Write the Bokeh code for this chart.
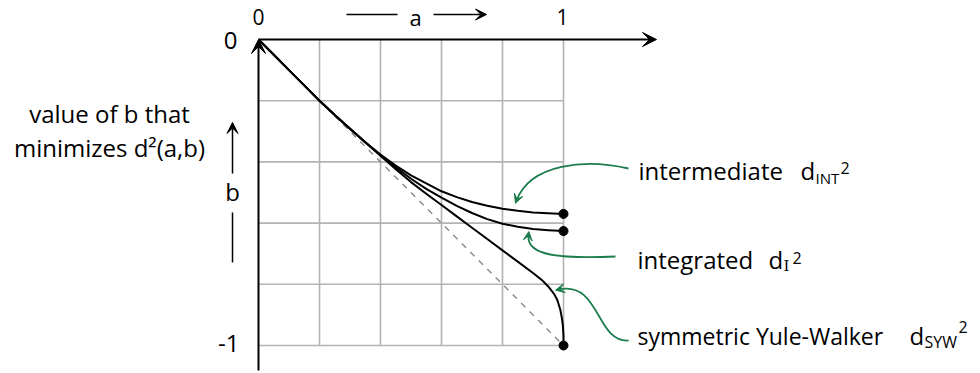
from bokeh.plotting import figure
from bokeh.models import Range1d, Arrow, VeeHead, Label
from bokeh.embed import file_html
from bokeh.resources import INLINE

W, H = 980, 373

# Placement of the unit square on the canvas (pixels):
# a = 0 -> x 258, a = 1 -> x 563 ; b = 0 -> y 39, b = -1 -> y 345
X0, XS = 258, 305
Y0, YS = 39, 306


def fx(px):
    return (px - X0) / XS


def fy(py):
    return -(py - Y0) / YS


# ---- data: value of b minimising each distance, as a function of a ----
a_vals = [0.0, 0.05, 0.10, 0.15, 0.20, 0.25, 0.30, 0.35, 0.40, 0.45,
          0.50, 0.55, 0.60, 0.65, 0.70, 0.75, 0.80, 0.85, 0.90, 0.95, 1.0]
b_intermediate = [0.0, -0.05, -0.10, -0.15, -0.20, -0.247, -0.292, -0.336, -0.376, -0.412,
                  -0.444, -0.470, -0.496, -0.515, -0.531, -0.543, -0.553, -0.560, -0.565, -0.568, -0.570]
b_integrated = [0.0, -0.05, -0.10, -0.15, -0.20, -0.247, -0.292, -0.336, -0.378, -0.418,
                -0.455, -0.488, -0.517, -0.544, -0.567, -0.587, -0.602, -0.612, -0.619, -0.623, -0.626]
a_syw = [0.0, 0.05, 0.10, 0.15, 0.20, 0.25, 0.30, 0.35, 0.40, 0.45,
         0.50, 0.55, 0.60, 0.65, 0.70, 0.75, 0.80, 0.85, 0.90, 0.93, 0.95,
         0.97, 0.98, 0.99, 0.995, 0.998, 1.0, 1.0]
b_syw = [0.0, -0.05, -0.10, -0.15, -0.20, -0.247, -0.292, -0.336, -0.380, -0.424,
         -0.466, -0.504, -0.541, -0.578, -0.615, -0.652, -0.689, -0.726, -0.763, -0.787, -0.807,
         -0.833, -0.852, -0.885, -0.912, -0.935, -0.970, -1.0]
diag_a = [0.0, 1.0]
diag_b = [0.0, -1.0]
grid_ticks = [0.2, 0.4, 0.6, 0.8, 1.0]
end_a = [a_vals[-1], a_vals[-1], a_syw[-1]]
end_b = [b_intermediate[-1], b_integrated[-1], b_syw[-1]]

FONT = "Open Sans"
GREEN = "#1d7d4c"
GRID = "#b3b3b3"

p = figure(width=W, height=H,
           x_range=Range1d(fx(0), fx(W)), y_range=Range1d(fy(H), fy(0)),
           output_backend="svg", toolbar_location=None,
           x_axis_location=None, y_axis_location=None,
           min_border=0, outline_line_color=None)
p.background_fill_color = "white"
p.border_fill_color = "white"
p.xgrid.visible = False
p.ygrid.visible = False
for r in p.renderers + p.center:
    if r.__class__.__name__ == "Grid":
        r.visible = False

# grid of the unit square
p.segment(x0=grid_ticks, y0=[0] * 5, x1=grid_ticks, y1=[-1] * 5,
          line_color=GRID, line_width=1.6)
p.segment(x0=[0] * 5, y0=[-t for t in grid_ticks], x1=[1] * 5, y1=[-t for t in grid_ticks],
          line_color=GRID, line_width=1.6)

# axes with arrowheads
p.add_layout(Arrow(x_start=0, y_start=0, x_end=fx(656), y_end=0, line_width=2,
                   end=VeeHead(size=14, fill_color="black", line_color="black")))
p.add_layout(Arrow(x_start=0, y_start=fy(370), x_end=0, y_end=0, line_width=2,
                   end=VeeHead(size=14, fill_color="black", line_color="black")))

# reference diagonal b = -a
p.line(diag_a, diag_b, line_color="#8c8c8c", line_width=1.5, line_dash="6 6")

# the three minimiser curves
for xs, ys in ((a_vals, b_intermediate), (a_vals, b_integrated), (a_syw, b_syw)):
    p.line(xs, ys, line_color="black", line_width=2, line_join="round")
p.scatter(end_a, end_b, size=9, color="black")

# green pointers from the labels to the curves
pointers = [
    # (start, ctrl1, ctrl2, end) in pixels
    ((628, 168), (585, 158), (530, 163), (516, 200)),
    ((615, 256), (560, 258), (525, 256), (528, 234)),
    ((628, 340), (595, 342), (600, 280), (558, 289)),
]
for (s, c1, c2, e) in pointers:
    p.bezier(x0=fx(s[0]), y0=fy(s[1]), x1=fx(e[0]), y1=fy(e[1]),
             cx0=fx(c1[0]), cy0=fy(c1[1]), cx1=fx(c2[0]), cy1=fy(c2[1]),
             line_color=GREEN, line_width=1.8)
    dx, dy = e[0] - c2[0], e[1] - c2[1]
    n = (dx * dx + dy * dy) ** 0.5
    ux, uy = dx / n, dy / n
    p.add_layout(Arrow(x_start=fx(e[0] - 2 * ux), y_start=fy(e[1] - 2 * uy),
                       x_end=fx(e[0] + 3 * ux), y_end=fy(e[1] + 3 * uy),
                       line_color=GREEN, line_width=1.5,
                       end=VeeHead(size=9, fill_color=GREEN, line_color=GREEN)))


def label(px, py, text, size=24, align="left", font=FONT):
    # py is the text baseline; raise by the font's descent so the glyphs sit on it
    p.add_layout(Label(x=fx(px), y=fy(py - 0.3 * size), text=text, text_font=font,
                       text_font_size=f"{size}px", text_align=align,
                       text_baseline="alphabetic", text_color="black"))


# tick labels
label(258, 23, "0", size=21, align="center")
label(562, 23, "1", size=21, align="center")
label(237, 47, "0", align="right")
label(239, 350, "-1", align="right")

# a-axis title with arrows
label(415, 23, "a", size=22, align="center")
p.segment(x0=[fx(346)], y0=[fy(14)], x1=[fx(397)], y1=[fy(14)], line_color="black", line_width=1.5)
p.add_layout(Arrow(x_start=fx(433), y_start=fy(14), x_end=fx(486), y_end=fy(14), line_width=1.5,
                   end=VeeHead(size=11, fill_color="black", line_color="black")))

# b-axis title with arrows
label(109, 120, "value of b that", align="center")
label(109, 154, "minimizes d²(a,b)", align="center")
label(232, 198, "b", align="center")
p.add_layout(Arrow(x_start=fx(232), y_start=fy(173), x_end=fx(232), y_end=fy(122), line_width=1.5,
                   end=VeeHead(size=11, fill_color="black", line_color="black")))
p.segment(x0=[fx(232)], y0=[fy(212)], x1=[fx(232)], y1=[fy(262)], line_color="black", line_width=1.5)

# curve labels: name, d, subscript, superscript
label(638, 177, "intermediate")
label(800, 177, "d")
label(815, 182, "INT", size=15)
label(840, 172, "2", size=16)

label(637, 266, "integrated")
label(768, 266, "d")
label(783, 270, "I", size=15, font="DejaVu Serif")
label(792, 262, "2", size=16)

label(637, 342, "symmetric Yule-Walker", size=23)
label(909, 342, "d")
label(924, 346, "SYW", size=16)
label(958, 331, "2", size=16)

open("out.html", "w").write(file_html(p, INLINE))
